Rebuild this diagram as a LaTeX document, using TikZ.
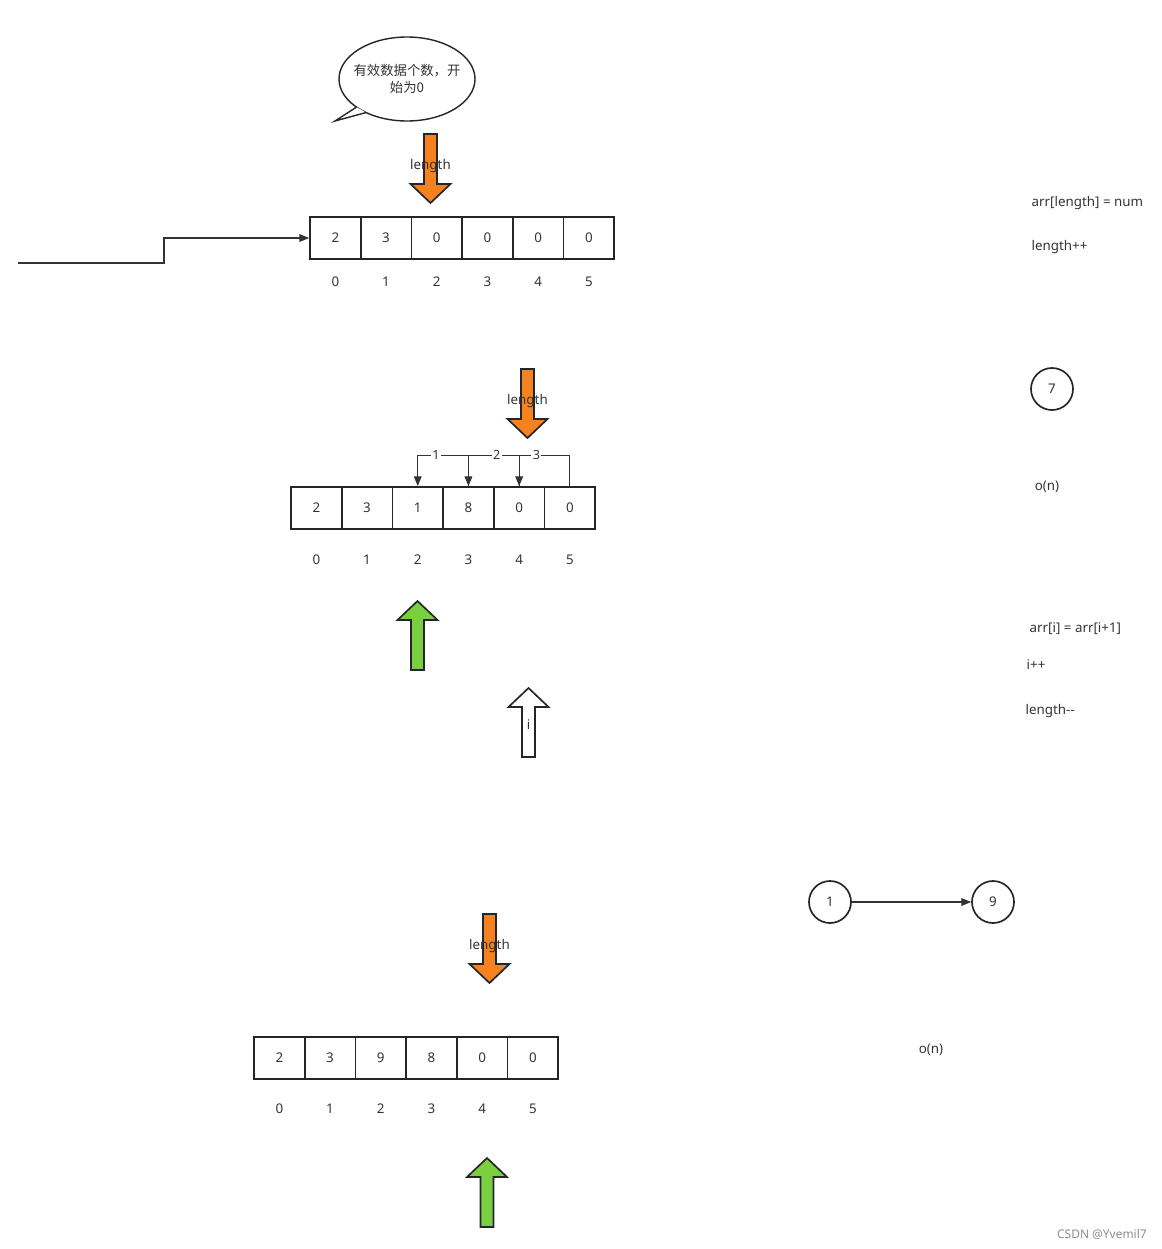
\documentclass[tikz,border=0pt]{standalone}
\usepackage{fontspec}
\setmainfont{Noto Sans}
\newfontfamily\cjkfont{Noto Sans CJK SC}
\usepackage{tikz}
\usetikzlibrary{positioning, arrows.meta, calc}

\definecolor{inkgray}{HTML}{333333}
\definecolor{linegray}{HTML}{23272B}
\definecolor{ptrorange}{HTML}{F5821F}
\definecolor{ptrgreen}{HTML}{7ACF3F}

\newcommand{\blkarrow}[5]{%
    \coordinate (#1) at #2;
    \begin{scope}[shift={(#1)}, yscale=#4]
        % Block arrow outline: shaft, then head ending at the tip (0,0)
        \draw[blk_style, fill=#3] (-6.5,69) -- (6.5,69) -- (6.5,19) -- (20,19) -- (0,0) -- (-20,19) -- (-6.5,19) -- cycle;
        % Pointer label
        \node[txt_style] (#1-lbl) at (0,37) {#5};
    \end{scope}
}

\newcommand{\arrcells}[5]{%
    \foreach \v [count=\k from 0] in {#5} {
        % Cell with its value
        \node[cell_style] (#1-c\k) at ({#2+25.35+50.7*\k}, #3) {\v};
        % Index below the cell
        \node[txt_style] (#1-i\k) at ({#2+25.35+50.7*\k}, #4) {\k};
    }
}

\begin{document}
\begin{tikzpicture}[
        x=0.025cm, y=-0.025cm,
        >={Triangle[length=7pt, width=5.5pt]},
        txt_style/.style={text=inkgray, font=\fontsize{9.5}{11}\selectfont, inner sep=1pt},
        cell_style/.style={draw=linegray, line width=1.2pt, minimum width=1.2675cm, minimum height=1.05cm, inner sep=0pt, text=inkgray, font=\fontsize{9.5}{11}\selectfont},
        blk_style/.style={draw=linegray, line width=1.2pt, line join=miter},
        conn_style/.style={draw=inkgray, line width=0.8pt},
        circ_style/.style={circle, draw=linegray, line width=1.2pt, minimum size=1.05cm, inner sep=0pt, text=inkgray, font=\fontsize{9.5}{11}\selectfont},
        lbl_style/.style={fill=white, text=inkgray, font=\fontsize{9}{10}\selectfont, inner sep=1pt}
    ]
    \useasboundingbox (0,0) rectangle (1162,1249);

    % =========================================================================
    % 1. SPEECH BUBBLE
    % =========================================================================
    \node[text=inkgray, align=center, font=\cjkfont\fontsize{9.5}{12}\selectfont, inner sep=0pt] (Bubble) at (407,79) {有效数据个数，开\\始为0};
    \draw[linegray, line width=1pt] (Bubble.center) ellipse [x radius=68, y radius=42];
    \coordinate (TailA) at ($(Bubble.center)+(138:68 and 42)$);
    \coordinate (TailB) at ($(Bubble.center)+(127:68 and 42)$);
    \coordinate (TailTip) at (335,121);
    \fill[white] (TailA) -- (TailTip) -- (TailB) -- cycle;
    \draw[linegray, line width=1pt, line join=miter] (TailA) -- (TailTip) -- (TailB);

    % =========================================================================
    % 2. ARRAYS
    % =========================================================================
    \arrcells{ArrA}{310}{238}{282}{2,3,0,0,0,0}
    \arrcells{ArrB}{291}{508}{560}{2,3,1,8,0,0}
    \arrcells{ArrC}{254}{1058}{1109}{2,3,9,8,0,0}

    % Feed line into the first array
    \coordinate (Feed) at (18,263);
    \draw[conn_style, ->] (Feed) -- ++(146,0) |- (ArrA-c0.west);

    % Shift steps over the second array
    \draw[conn_style, ->] (ArrB-c5.north) -- ++(0,-31) -| node[lbl_style, pos=0.33] {3} (ArrB-c4.north);
    \draw[conn_style, ->] (ArrB-c4.north) -- ++(0,-31) -| node[lbl_style, pos=0.22] {2} (ArrB-c3.north);
    \draw[conn_style, ->] (ArrB-c3.north) -- ++(0,-31) -| node[lbl_style, pos=0.32] {1} (ArrB-c2.north);

    % =========================================================================
    % 3. BLOCK POINTERS
    % =========================================================================
    \blkarrow{LenA}{(430.5,203)}{ptrorange}{-1}{length}
    \blkarrow{LenB}{(527.5,438)}{ptrorange}{-1}{length}
    \blkarrow{LenC}{(489.5,983)}{ptrorange}{-1}{length}
    \blkarrow{PosA}{(417.5,601)}{ptrgreen}{1}{}
    \blkarrow{IdxI}{(528.5,688)}{white}{1}{i}
    \blkarrow{PosC}{(487,1158)}{ptrgreen}{1}{}

    % =========================================================================
    % 4. NOTES ON THE RIGHT
    % =========================================================================
    \node[txt_style, anchor=west] (OpAppend) at (1030,203) {arr[length] = num};
    \node[txt_style, anchor=west] (OpLenInc) at (1030,247) {length++};
    \node[circ_style] (Num7) at (1052,389) {7};
    \node[txt_style] (CostA) at (1047,487) {o(n)};
    \node[txt_style, anchor=west] (OpShift) at (1028,629) {arr[i] = arr[i+1]};
    \node[txt_style, anchor=west] (OpIInc) at (1025,665) {i++};
    \node[txt_style, anchor=west] (OpLenDec) at (1024,711) {length{-}{-}};

    \node[circ_style] (Num1) at (830,902) {1};
    \node[circ_style] (Num9) at (993,902) {9};
    \draw[conn_style, ->] (Num1) -- (Num9);
    \node[txt_style] (CostB) at (931,1050) {o(n)};

    % Watermark
    \node[anchor=east, text=black!45, font=\fontsize{8.5}{10}\selectfont, inner sep=0pt] (Mark) at (1147,1234) {CSDN @Yvemil7};

\end{tikzpicture}
\end{document}
